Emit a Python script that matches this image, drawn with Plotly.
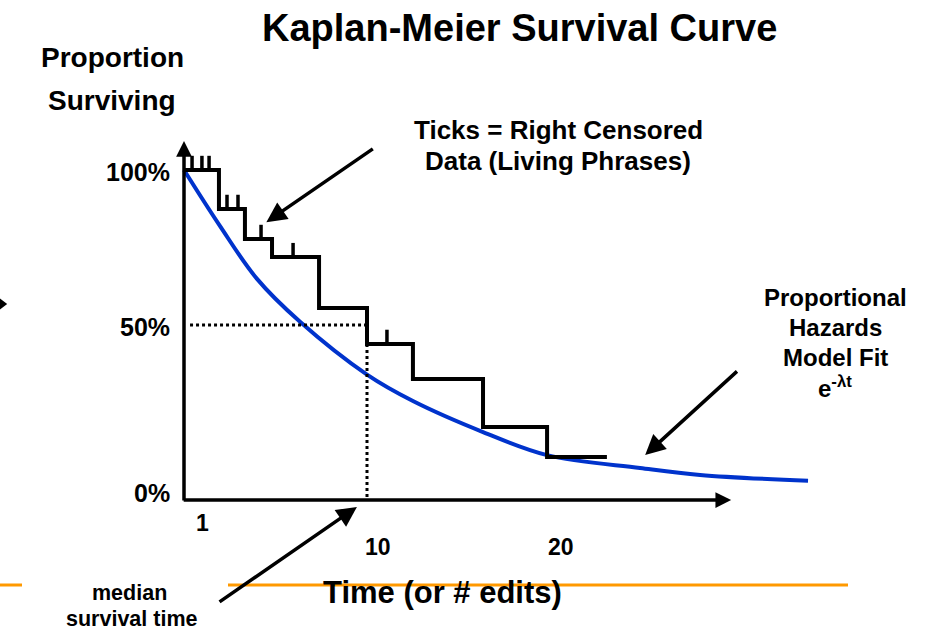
import plotly.graph_objects as go

# ---------------- data ----------------
# Kaplan-Meier step curve: event times and survival level (%) after each step
km_times = [0, 1.91, 3.33, 4.81, 7.38, 10.0, 12.51, 16.34, 19.84]
km_surv = [100, 88.2, 79.1, 73.6, 58.2, 47.3, 36.7, 22.1, 13.0]
km_end_time = 23.11

# right-censored observations (tick marks)
censor_times = [0.44, 0.98, 1.37, 2.35, 2.95, 4.21, 5.96, 11.09]

# proportional hazards model fit
fit_t = [0, 1.97, 3.99, 6.34, 10, 12.51, 16.34, 19.84, 24.92, 28.2, 34.1]
fit_s = [100, 83, 67, 54, 38, 30, 20.6, 13.6, 9.7, 7.6, 5.8]

median_time = 10.0
median_level = 53.0

x_tick_vals = [1, 10, 20]
x_tick_text = ["1", "10", "20"]
y_tick_text = ["100%", "50%", "0%"]

# ---------------- geometry helpers ----------------
W, H = 936, 633
OFF = 0  # page body margin is removed by post_script
X_RANGE = [-(184 - OFF) / 18.3, (W - (184 - OFF)) / 18.3]
Y_RANGE = [((500 - OFF) - H) / 3.3, (500 - OFF) / 3.3]

FONT = "Liberation Sans, Arial, sans-serif"


def px(xp, yp):
    """paper coords from screenshot pixel coords"""
    return (xp - OFF) / W, 1 - (yp - OFF) / H


# ---------------- build step path ----------------
step_x, step_y = [], []
for i, (t, s) in enumerate(zip(km_times, km_surv)):
    if i > 0:
        step_x.append(t)
        step_y.append(km_surv[i - 1])
    step_x.append(t)
    step_y.append(s)
step_x.append(km_end_time)
step_y.append(km_surv[-1])


def km_level(t):
    lvl = km_surv[0]
    for tt, s in zip(km_times, km_surv):
        if tt <= t:
            lvl = s
    return lvl


tick_len = 4.3
cx, cy = [], []
for t in censor_times:
    lv = km_level(t)
    cx += [t, t, None]
    cy += [lv, lv + tick_len, None]

fig = go.Figure()

# proportional hazards fit
fig.add_trace(go.Scatter(x=fit_t, y=fit_s, mode="lines",
                         line=dict(color="#0033cc", width=4, shape="spline", smoothing=1.0),
                         hoverinfo="skip", showlegend=False))
# KM steps
fig.add_trace(go.Scatter(x=step_x, y=step_y, mode="lines",
                         line=dict(color="black", width=4),
                         hoverinfo="skip", showlegend=False))
# censor ticks
fig.add_trace(go.Scatter(x=cx, y=cy, mode="lines",
                         line=dict(color="black", width=3.5),
                         hoverinfo="skip", showlegend=False))
# median dotted lines
fig.add_trace(go.Scatter(x=[0.33, median_time, None, median_time, median_time],
                         y=[median_level, median_level, None, km_level(median_time), 0],
                         mode="lines", line=dict(color="black", width=3, dash="dot"),
                         hoverinfo="skip", showlegend=False))
# partial arrowhead at the left edge (rest is outside the slide)
fig.add_trace(go.Scatter(x=[X_RANGE[0] + 0.01], y=[59.4], mode="markers",
                         marker=dict(symbol="triangle-right", size=14, color="black"),
                         hoverinfo="skip", showlegend=False, cliponaxis=False))

ann = []


def arrow(x_head, y_head, x_tail, y_tail, size=1.0, width=3.5):
    ann.append(dict(x=x_head, y=y_head, ax=x_tail, ay=y_tail, xref="x", yref="y",
                    axref="x", ayref="y", text="", showarrow=True, arrowhead=2,
                    arrowsize=size, arrowwidth=width, arrowcolor="black", standoff=0))


# axes
arrow(0, 108.8, 0, -0.6, size=0.9)
arrow(29.9, 0, -0.1, 0, size=0.9)
# pointer arrows
arrow(4.5, 84.2, 10.4, 106.7, size=1.15)
arrow(25.2, 13.6, 30.3, 39.4, size=1.15)
arrow(9.45, -2.1, 1.86, -31.2, size=1.15)


def text(s, xp, yp, size, xanchor="center"):
    xx, yy = px(xp, yp)
    ann.append(dict(x=xx, y=yy, xref="paper", yref="paper", text=s, showarrow=False,
                    xanchor=xanchor, yanchor="middle",
                    font=dict(family=FONT, size=size, color="black")))


text("<b>Kaplan-Meier Survival Curve</b>", 519, 28, 38)
text("<b>Proportion</b>", 112, 57, 28)
text("<b>Surviving</b>", 112, 100, 28)
text("<b>Ticks = Right Censored</b>", 558, 130, 26)
text("<b>Data (Living Phrases)</b>", 558, 161, 26)
for lbl, yp in zip(y_tick_text, [172, 327, 493]):
    text("<b>%s</b>" % lbl, 172, yp, 25, xanchor="right")
text("<b>Proportional</b>", 835, 297, 24)
text("<b>Hazards</b>", 835, 327, 24)
text("<b>Model Fit</b>", 835, 357, 24)
text("<b>e<sup>-λt</sup></b>", 835, 387, 24)
for v, lbl in zip(x_tick_vals, x_tick_text):
    xp = 184 + v * 18.3 + (0 if v == 1 else 11)
    yp = 523 if v == 1 else 547
    text("<b>%s</b>" % lbl, xp, yp, 23)
text("<b>Time (or # edits)</b>", 442, 592, 31)
text("<b>median</b>", 129, 593, 21.5)
text("<b>survival time</b>", 131, 619, 21.5)

yl = 1 - (585 - OFF) / H
shapes = [
    dict(type="line", xref="paper", yref="paper", x0=0, x1=(22 - OFF) / W,
         y0=yl, y1=yl, line=dict(color="#ff9900", width=3), layer="below"),
    dict(type="line", xref="paper", yref="paper", x0=(228 - OFF) / W, x1=(848 - OFF) / W,
         y0=yl, y1=yl, line=dict(color="#ff9900", width=3), layer="below"),
]

fig.update_layout(
    width=W, height=H, margin=dict(l=0, r=0, t=0, b=0),
    paper_bgcolor="white", plot_bgcolor="white",
    xaxis=dict(range=X_RANGE, visible=False, domain=[0, 1]),
    yaxis=dict(range=Y_RANGE, visible=False, domain=[0, 1]),
    annotations=ann, shapes=shapes, showlegend=False,
)

fig.write_html("out.html", config={"displayModeBar": False},
               post_script="document.body.style.margin='0px';")
